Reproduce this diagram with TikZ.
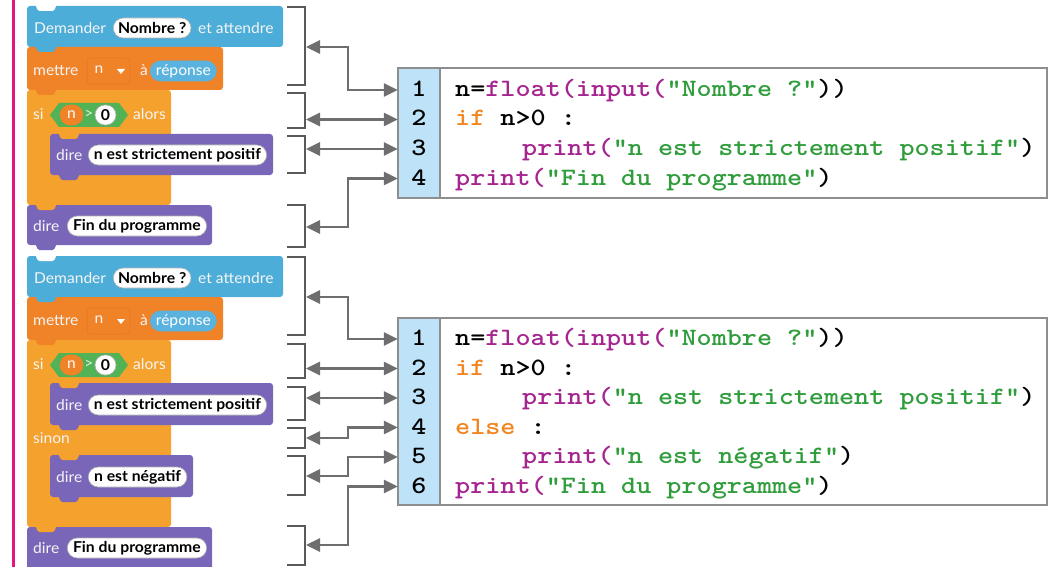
\documentclass[tikz,border=0pt]{standalone}
\usepackage{fontspec}
\usepackage{graphicx}
\newfontfamily\blkfont{Lato}[FakeStretch=1.04]
\newfontfamily\blkbold{Lato}[FakeStretch=1.05]
\usetikzlibrary{arrows.meta,shapes.misc,calc}

% Scratch palette
\definecolor{sense}{HTML}{4DADD9}
\definecolor{vars}{HTML}{F08228}
\definecolor{ctrl}{HTML}{F5A12E}
\definecolor{looks}{HTML}{7A66B8}
\definecolor{ops}{HTML}{52B256}
\definecolor{answer}{HTML}{5AB3DE}
% page and wiring
\definecolor{frame}{HTML}{E2187F}
\definecolor{wire}{HTML}{6E6E6E}
\definecolor{brk}{HTML}{5A5A5A}
\definecolor{boxline}{HTML}{8E8E8E}
\definecolor{numfill}{HTML}{BEE3F8}
% Python highlighting
\definecolor{pyfun}{HTML}{A6248F}
\definecolor{pystr}{HTML}{2F9D3B}
\definecolor{pykey}{HTML}{F2851F}

% block body and the tab under it
\newcommand\blockrect[5]{\fill[#1,rounded corners=3pt] (#2,#3) rectangle (#4,#5);}
\newcommand\blocktab[3]{\fill[#1,rounded corners=1.5pt] ({#2+8},{#3-2}) -- ({#2+11},{#3+5}) -- ({#2+27},{#3+5}) -- ({#2+30},{#3-2}) -- cycle;}
% widened typewriter text
\newcommand\cl[1]{\scalebox{1.15}[1]{#1}}
\newcommand\codefont{\ttfamily\bfseries\fontsize{25}{30}\selectfont}
\newcommand\fn[1]{\textcolor{pyfun}{#1}}
\newcommand\st[1]{\textcolor{pystr}{#1}}
\newcommand\kwd[1]{\textcolor{pykey}{#1}}

\begin{document}
\begin{tikzpicture}[x=1pt,y=-1pt,
  kw/.style={font=\blkfont\fontsize{15}{17}\selectfont, text=white!96!black, inner sep=0pt, anchor=west},
  oval/.style={rounded rectangle, fill=white, draw=black!30, line width=0.6pt,
    font=\blkbold\bfseries\fontsize{15}{17}\selectfont, text=black,
    inner xsep=3pt, inner ysep=0pt, minimum height=20pt, anchor=west},
  repo/.style={oval, fill=answer, draw=answer, text=white, font=\blkfont\fontsize{15}{17}\selectfont},
  varo/.style={oval, fill=vars, draw=vars, text=white, font=\blkfont\fontsize{15}{17}\selectfont, anchor=center, minimum width=23pt, inner xsep=0pt},
  zero/.style={oval, anchor=center, minimum width=21pt, inner xsep=0pt},
  bracket/.style={draw=brk, line width=2pt},
  conn/.style={draw=wire, line width=2.6pt,
    {Triangle[length=14pt,width=13pt]}-{Triangle[length=14pt,width=13pt]}},
  num/.style={font=\codefont, text height=15pt, text depth=2pt, inner sep=0pt, minimum width=42pt},
  code/.style={font=\codefont, text height=15pt, text depth=2pt, inner sep=0pt, anchor=west},
  codebox/.style={draw=boxline, line width=2pt},
  numcol/.style={draw=boxline, line width=2pt, fill=numfill}
]
\useasboundingbox (0,0) rectangle (1049,567);

% margin rule
\draw[frame, line width=3pt] (13,0) -- (13,567);

% ---------- first Scratch script ----------
\blockrect{sense}{27}{6}{283}{47}
\blockrect{vars}{27}{47}{223}{90}
\blockrect{ctrl}{27}{90}{171}{205}
\blockrect{looks}{50}{134}{273}{175}
\blockrect{looks}{27}{205}{212}{245}
\blocktab{white}{27}{6}
\blocktab{sense}{27}{47}
\blocktab{vars}{27}{90}
\blocktab{ctrl}{50}{134}
\blocktab{looks}{50}{175}
\blocktab{ctrl}{27}{205}
\blocktab{looks}{27}{245}

\node[kw] (ask1) at (34,28) {Demander};
\node[oval] (q1) at (113,28) {Nombre ?};
\node[kw] (wait1) at (198,28) {et attendre};

\node[kw] (set1) at (33,71) {mettre};
\draw[vars!93!black, fill=vars, line width=0.5pt, rounded corners=3pt] (87,58) rectangle (130,84);
\node[kw, anchor=center] (var1) at (99,70) {n};
\fill[white] (117,69) -- (125,69) -- (121,74) -- cycle;
\node[kw, anchor=center] (to1) at (144,70) {à};
\node[repo] (ans1) at (150,71) {réponse};

\node[kw] (if1) at (33,114) {si};
\fill[ops] (50,115) -- (59,103) -- (119,103) -- (128,115) -- (119,127) -- (59,127) -- cycle;
\node[varo] (nv1) at (71.5,115) {n};
\node[kw, anchor=center, text=white!80!ops] (gt1) at (89,114) {>};
\node[zero] (z1) at (105.5,115) {0};
\node[kw] (then1) at (133,114) {alors};

\node[kw] (say1) at (56,155) {dire};
\node[oval] (pos1) at (88,155) {n est strictement positif};

\node[kw] (say2) at (33,226) {dire};
\node[oval] (end1) at (67,226) {Fin du programme};

% ---------- second Scratch script ----------
\blockrect{sense}{27}{256}{283}{297}
\blockrect{vars}{27}{297}{223}{340}
\blockrect{ctrl}{27}{340}{171}{527}
\blockrect{looks}{50}{383}{273}{425}
\blockrect{looks}{50}{455}{193}{497}
\blockrect{looks}{27}{527}{212}{575}
\blocktab{white}{27}{256}
\blocktab{sense}{27}{297}
\blocktab{vars}{27}{340}
\blocktab{ctrl}{50}{383}
\blocktab{looks}{50}{425}
\blocktab{ctrl}{50}{455}
\blocktab{looks}{50}{497}
\blocktab{ctrl}{27}{527}

\node[kw] (ask2) at (34,278) {Demander};
\node[oval] (q2) at (113,278) {Nombre ?};
\node[kw] (wait2) at (198,278) {et attendre};

\node[kw] (set2) at (33,321) {mettre};
\draw[vars!93!black, fill=vars, line width=0.5pt, rounded corners=3pt] (87,308) rectangle (130,334);
\node[kw, anchor=center] (var2) at (99,320) {n};
\fill[white] (117,319) -- (125,319) -- (121,324) -- cycle;
\node[kw, anchor=center] (to2) at (144,320) {à};
\node[repo] (ans2) at (150,321) {réponse};

\node[kw] (if2) at (33,364) {si};
\fill[ops] (50,365) -- (59,353) -- (119,353) -- (128,365) -- (119,377) -- (59,377) -- cycle;
\node[varo] (nv2) at (71.5,365) {n};
\node[kw, anchor=center, text=white!80!ops] (gt2) at (89,364) {>};
\node[zero] (z2) at (105.5,365) {0};
\node[kw] (then2) at (133,364) {alors};

\node[kw] (say3) at (56,405) {dire};
\node[oval] (pos2) at (88,405) {n est strictement positif};

\node[kw] (else2) at (33,438) {sinon};

\node[kw] (say4) at (56,477) {dire};
\node[oval] (neg2) at (88,477) {n est négatif};

\node[kw] (say5) at (33,548) {dire};
\node[oval] (end2) at (67,548) {Fin du programme};

% ---------- brackets grouping the blocks ----------
\draw[bracket] (287,7) -| (305,85) -- (287,85);
\draw[bracket] (287,93) -| (305,128) -- (287,128);
\draw[bracket] (287,136) -| (305,173) -- (287,173);
\draw[bracket] (287,205) -| (305,247) -- (287,247);

\draw[bracket] (287,257) -| (305,335) -- (287,335);
\draw[bracket] (287,344) -| (305,378) -- (287,378);
\draw[bracket] (287,387) -| (305,420) -- (287,420);
\draw[bracket] (287,428) -| (305,448) -- (287,448);
\draw[bracket] (287,456) -| (305,495) -- (287,495);
\draw[bracket] (287,526) -| (305,565) -- (287,565);

% ---------- first Python listing ----------
\fill[white] (398,68) rectangle (1047,198);
\draw[numcol] (398,68) rectangle (440,198);
\draw[codebox] (398,68) rectangle (1047,198);

\node[num] (n1a) at (419,90) {\cl{1}};
\node[num] (n2a) at (419,119.5) {\cl{2}};
\node[num] (n3a) at (419,149) {\cl{3}};
\node[num] (n4a) at (419,178.5) {\cl{4}};

\node[code] (c1a) at (455,90) {\cl{n=\fn{float(input(}\st{"Nombre ?"}))}};
\node[code] (c2a) at (455,119.5) {\cl{\kwd{if} n>0 :}};
\node[code] (c3a) at (522,149) {\cl{\fn{print(}\st{"n est strictement positif"})}};
\node[code] (c4a) at (455,178.5) {\cl{\fn{print(}\st{"Fin du programme"})}};

% ---------- second Python listing ----------
\fill[white] (398,318) rectangle (1047,505);
\draw[numcol] (398,318) rectangle (440,505);
\draw[codebox] (398,318) rectangle (1047,505);

\node[num] (n1b) at (419,339) {\cl{1}};
\node[num] (n2b) at (419,368.5) {\cl{2}};
\node[num] (n3b) at (419,398) {\cl{3}};
\node[num] (n4b) at (419,427.5) {\cl{4}};
\node[num] (n5b) at (419,457) {\cl{5}};
\node[num] (n6b) at (419,486.5) {\cl{6}};

\node[code] (c1b) at (455,339) {\cl{n=\fn{float(input(}\st{"Nombre ?"}))}};
\node[code] (c2b) at (455,368.5) {\cl{\kwd{if} n>0 :}};
\node[code] (c3b) at (522,398) {\cl{\fn{print(}\st{"n est strictement positif"})}};
\node[code] (c4b) at (455,427.5) {\cl{\kwd{else} :}};
\node[code] (c5b) at (522,457) {\cl{\fn{print(}\st{"n est négatif"})}};
\node[code] (c6b) at (455,486.5) {\cl{\fn{print(}\st{"Fin du programme"})}};

% ---------- links between blocks and lines ----------
\coordinate (brx) at (306,0);
\coordinate (elb) at (348,0);

\coordinate (b1a) at (306,47);
\coordinate (b2a) at (n2a.west -| brx);
\coordinate (b3a) at (n3a.west -| brx);
\coordinate (b4a) at (306,227);
\draw[conn] (b1a) -- (b1a -| elb) |- (n1a.west);
\draw[conn] (b2a) -- (n2a.west);
\draw[conn] (b3a) -- (n3a.west);
\draw[conn] (b4a) -- (b4a -| elb) |- (n4a.west);

\coordinate (b1b) at (306,297);
\coordinate (b2b) at (n2b.west -| brx);
\coordinate (b3b) at (n3b.west -| brx);
\coordinate (b4b) at (306,438);
\coordinate (b5b) at (306,476);
\coordinate (b6b) at (306,545);
\draw[conn] (b1b) -- (b1b -| elb) |- (n1b.west);
\draw[conn] (b2b) -- (n2b.west);
\draw[conn] (b3b) -- (n3b.west);
\draw[conn] (b4b) -- (b4b -| elb) |- (n4b.west);
\draw[conn] (b5b) -- (b5b -| elb) |- (n5b.west);
\draw[conn] (b6b) -- (b6b -| elb) |- (n6b.west);
\end{tikzpicture}
\end{document}
